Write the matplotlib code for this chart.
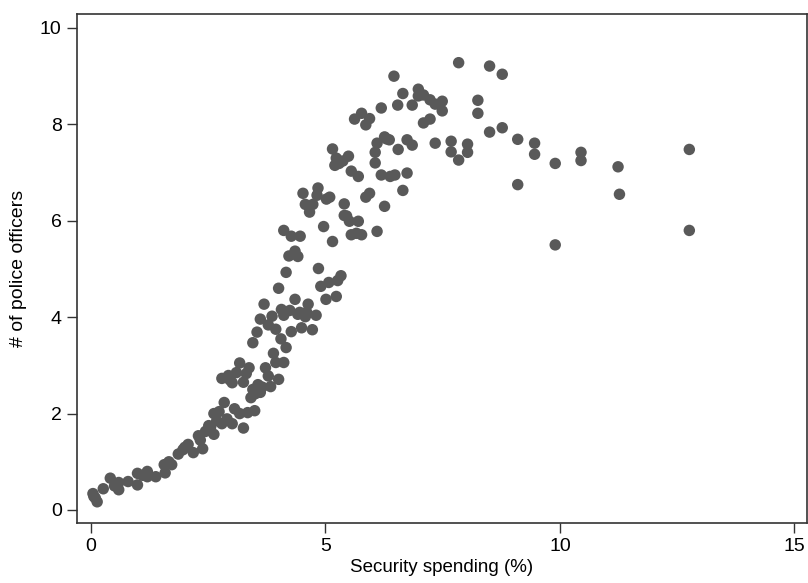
import matplotlib
matplotlib.use("Agg")
import matplotlib.pyplot as plt

spending = [
    0.04, 0.09, 0.13, 0.26, 0.41, 0.59, 0.59, 0.79, 0.99, 0.99,
    1.20, 1.20, 1.38, 1.56, 1.58, 1.72, 1.86, 1.96, 2.07, 2.18,
    2.29, 2.38, 2.44, 2.51, 2.62, 2.62, 2.73, 2.79, 2.84, 2.90,
    3.01, 3.06, 3.17, 3.25, 3.34, 3.49, 2.79, 2.93, 3.01, 3.10,
    3.17, 3.25, 3.31, 3.37, 3.41, 3.50, 3.56, 3.61, 3.72, 3.78,
    3.83, 4.00, 3.94, 4.11, 3.89, 4.05, 4.16, 3.45, 3.54, 3.61,
    3.69, 3.78, 3.86, 3.94, 4.06, 4.11, 4.24, 4.27, 4.35, 4.41,
    4.49, 4.57, 4.63, 4.72, 4.80, 4.00, 4.16, 4.22, 4.35, 4.41,
    4.11, 4.27, 4.46, 4.52, 4.57, 4.66, 4.73, 4.84, 4.82, 5.02,
    5.09, 4.96, 4.85, 4.90, 5.01, 5.07, 5.23, 5.26, 5.33, 5.15,
    5.40, 5.40, 5.51, 5.55, 5.70, 5.66, 5.77, 5.15, 5.23, 5.29,
    5.37, 5.49, 5.55, 5.70, 5.62, 5.77, 5.86, 5.94, 5.86, 5.94,
    6.10, 6.26, 6.06, 6.06, 6.10, 6.19, 6.19, 6.26, 6.36, 6.38,
    6.48, 6.46, 6.54, 6.55, 6.65, 6.65, 6.74, 6.74, 6.85, 6.85,
    6.98, 6.98, 7.09, 7.09, 7.23, 7.23, 7.34, 7.34, 7.49, 7.49,
    7.68, 7.68, 7.84, 7.84, 8.03, 8.03, 8.25, 8.25, 8.50, 8.50,
    8.77, 8.77, 9.10, 9.10, 9.46, 9.46, 9.90, 9.90, 10.45, 10.45,
    11.24, 11.27, 12.76, 12.76,
    0.06, 0.50, 1.10, 1.66, 2.00, 2.33, 2.55, 2.68, 2.96, 3.45,
    3.65, 4.45, 4.60, 5.20, 5.45, 6.30,
]
officers = [
    0.34, 0.25, 0.17, 0.44, 0.66, 0.57, 0.42, 0.59, 0.76, 0.52,
    0.80, 0.69, 0.69, 0.94, 0.77, 0.94, 1.16, 1.25, 1.36, 1.19,
    1.54, 1.27, 1.63, 1.75, 1.57, 2.00, 2.04, 1.79, 2.23, 1.89,
    1.79, 2.10, 2.00, 1.70, 2.02, 2.06, 2.73, 2.79, 2.64, 2.85,
    3.05, 2.65, 2.83, 2.95, 2.33, 2.41, 2.60, 2.44, 2.95, 2.78,
    2.56, 2.71, 3.06, 3.06, 3.25, 3.55, 3.37, 3.47, 3.69, 3.96,
    4.27, 3.84, 4.02, 3.75, 4.16, 4.04, 4.14, 3.70, 4.37, 4.06,
    3.78, 4.01, 4.27, 3.74, 4.04, 4.60, 4.93, 5.27, 5.37, 5.26,
    5.80, 5.68, 5.68, 6.57, 6.34, 6.18, 6.34, 6.68, 6.53, 6.45,
    6.49, 5.88, 5.01, 4.64, 4.37, 4.72, 4.43, 4.76, 4.86, 5.57,
    6.35, 6.11, 5.99, 5.71, 5.99, 5.74, 5.71, 7.49, 7.30, 7.19,
    7.24, 7.34, 7.03, 6.92, 8.11, 8.23, 7.99, 8.12, 6.49, 6.57,
    5.78, 6.30, 7.42, 7.20, 7.61, 6.95, 8.34, 7.74, 7.68, 6.92,
    6.95, 9.00, 8.40, 7.48, 8.64, 6.63, 7.68, 6.99, 8.40, 7.57,
    8.73, 8.59, 8.61, 8.03, 8.51, 8.11, 8.42, 7.61, 8.48, 8.28,
    7.65, 7.43, 9.28, 7.26, 7.59, 7.42, 8.50, 8.23, 9.21, 7.84,
    9.04, 7.93, 7.69, 6.75, 7.61, 7.38, 7.19, 5.50, 7.42, 7.25,
    7.12, 6.55, 7.48, 5.80,
    0.28, 0.50, 0.72, 1.00, 1.30, 1.45, 1.72, 1.85, 2.70, 2.50,
    2.55, 4.10, 4.10, 7.15, 6.10, 7.70,
]

xticks = [0, 5, 10, 15]
yticks = [0, 2, 4, 6, 8, 10]

plt.rcParams['font.family'] = ['Liberation Sans', 'DejaVu Sans']

fig = plt.figure(figsize=(8.08, 5.83), dpi=100)
ax = fig.add_axes([77/808, 1 - 523/583, (807 - 77)/808, (523 - 14)/583])

ax.scatter(spending, officers, s=68, color='#595959', edgecolors='none', zorder=3)

ax.set_xlim(-0.30, 15.27)
ax.set_ylim(-0.27, 10.29)
ax.set_xticks(xticks)
ax.set_yticks(yticks)
ax.tick_params(axis='both', direction='out', length=7, width=1.0, color='#333333',
               labelsize=14, pad=4)
for sp in ax.spines.values():
    sp.set_linewidth(1.2)
    sp.set_color('#333333')

ax.set_xlabel('Security spending (%)', fontsize=13.5, labelpad=3)
ax.set_ylabel('# of police officers', fontsize=14, labelpad=9)

fig.savefig('out.png', dpi=100)
